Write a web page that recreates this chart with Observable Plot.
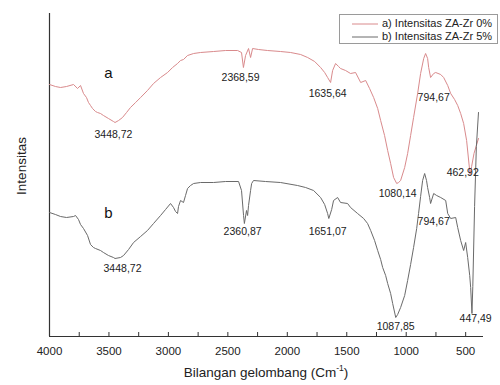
<!DOCTYPE html>
<html>
<head>
<meta charset="utf-8">
<script src="https://cdn.jsdelivr.net/npm/d3@7"></script>
<script src="https://cdn.jsdelivr.net/npm/@observablehq/plot@0.6"></script>
<style>
  html, body { margin: 0; padding: 0; background: #fff; }
  #chart svg { display: block; font-family: "Liberation Sans", Arial, sans-serif; }
</style>
</head>
<body>
<div id="chart"></div>
<script>
// ---- Data (wavenumber cm-1, intensity in arbitrary units) ----
const seriesNames = ["a) Intensitas ZA-Zr 0%", "b) Intensitas ZA-Zr 5%"];

const wnA = [4000,3950,3907,3857,3798,3764,3739,3714,3689,3672,3655,3638,3613,3596,3571,3546,3504,3462,3449,3419,3386,3352,3319,3276,3234,3176,3125,3066,3007,2965,2923,2898,2873,2839,2788,2730,2620,2519,2418,2385,2369,2351,2326,2309,2292,2242,2166,2057,1972,1888,1829,1770,1720,1686,1661,1636,1619,1594,1569,1552,1510,1468,1426,1383,1341,1308,1274,1240,1215,1182,1156,1131,1106,1080,1064,1047,1013,988,963,938,904,879,853,837,820,811,795,769,752,710,685,651,626,593,567,542,517,492,463,450,430,410,392];
const intA = [252,250,249,250,252,248,251,243,239,234,231,228,225,224,223,221,218,215,214,216,219,224,229,234,239,246,253,259,264,269,273,276,277,281,283,284,285,286,286,284,269,281,288,279,288,287,286,285,284,282,279,275,269,264,259,254,266,273,270,268,266,263,264,254,256,248,239,228,216,201,186,173,159,153,154,156,169,183,201,219,243,263,278,283,278,269,259,263,264,262,259,251,243,237,231,223,213,196,162,170,183,191,198];

const wnB = [4000,3950,3907,3857,3798,3781,3756,3739,3714,3680,3655,3630,3613,3571,3546,3504,3462,3449,3403,3377,3335,3293,3234,3176,3125,3066,3024,2982,2957,2940,2923,2915,2898,2873,2856,2839,2814,2788,2730,2620,2519,2410,2385,2368,2361,2343,2334,2326,2309,2300,2284,2183,2057,1914,1846,1779,1720,1686,1661,1651,1627,1611,1577,1552,1493,1468,1409,1358,1325,1299,1266,1240,1215,1198,1173,1156,1131,1114,1088,1072,1047,1013,988,963,938,912,896,879,862,845,829,820,803,795,769,744,710,668,651,626,584,567,542,517,500,483,466,458,447,440,425,410,392];
const intB = [124,122,120,119,120,121,117,112,108,101,92,89,88,86,84,81,79,78,79,81,87,94,100,106,113,121,127,133,129,125,123,130,136,134,141,148,151,153,154,154,155,155,146,121,113,126,121,131,146,153,156,155,154,151,149,146,139,132,123,118,127,136,139,134,133,129,123,118,113,106,96,86,77,69,61,53,43,33,19,22,29,41,56,72,89,108,123,140,156,163,156,149,139,133,143,141,139,136,123,118,119,109,96,86,94,79,61,49,23,50,130,190,224];

// peak annotations
const peakTextA = ["3448,72","2368,59","1635,64","1080,14","794,67","462,92"];
const peakXA    = [3462, 2393, 1661, 1072, 769, 525];
const peakYA    = [202, 259, 243, 143, 239, 164];
const peakTextB = ["3448,72","2360,87","1651,07","1087,85","794,67","447,49"];
const peakXB    = [3386, 2376, 1661, 1089, 769, 416];
const peakYB    = [68, 105, 105, 10, 115, 18];
const curveTags = ["a","b"];
const tagX      = [3504, 3504];
const tagY      = [263, 123];

const majorTicks = [4000,3500,3000,2500,2000,1500,1000,500];
const allTicks   = [3750,3500,3250,3000,2750,2500,2250,2000,1750,1500,1250,1000,750,500];

const xTitle = "Bilangan gelombang (Cm";
const xTitleSup = "-1";
const yTitle = "Intensitas";

// ---- build tables ----
const dataA = wnA.map((w, i) => ({wn: w, v: intA[i]}));
const dataB = wnB.map((w, i) => ({wn: w, v: intB[i]}));
const labA = peakTextA.map((t, i) => ({t, x: peakXA[i], y: peakYA[i]}));
const labB = peakTextB.map((t, i) => ({t, x: peakXB[i], y: peakYB[i]}));
const tags = curveTags.map((t, i) => ({t, x: tagX[i], y: tagY[i]}));

const colA = "#d98a8c";
const colB = "#6a6a6a";
const axisCol = "#333";

const plot = Plot.plot({
  width: 500,
  height: 385,
  marginLeft: 49,
  marginRight: 17,
  marginTop: 13,
  marginBottom: 49,
  style: {fontFamily: "'Liberation Sans', Arial, sans-serif", background: "#fff"},
  x: {domain: [4000, 350]},
  y: {domain: [0, 323], axis: null},
  marks: [
    Plot.axisX({ticks: majorTicks, tickFormat: d3.format("d"), tickSize: 0, tickPadding: 10, fontSize: 11.5, label: null, color: "#222"}),
    Plot.ruleX(allTicks, {y1: 0, y2: 4, stroke: axisCol}),
    Plot.ruleY([0], {stroke: axisCol, strokeWidth: 1.2}),
    Plot.ruleX([4000], {stroke: axisCol, strokeWidth: 1.2}),
    Plot.line(dataA, {x: "wn", y: "v", stroke: colA, strokeWidth: 1}),
    Plot.line(dataB, {x: "wn", y: "v", stroke: colB, strokeWidth: 1}),
    Plot.text(labA, {x: "x", y: "y", text: "t", fontSize: 10.5, fill: "#222"}),
    Plot.text(labB, {x: "x", y: "y", text: "t", fontSize: 10.5, fill: "#222"}),
    Plot.text(tags, {x: "x", y: "y", text: "t", fontSize: 15, fill: "#111"})
  ]
});

const svg = d3.select(plot);

// x axis title with superscript
const xt = svg.append("text")
  .attr("x", 266).attr("y", 377)
  .attr("text-anchor", "middle")
  .attr("font-size", 13.5)
  .attr("fill", "#222");
xt.append("tspan").text(xTitle);
xt.append("tspan").attr("font-size", 8.5).attr("dy", -6).text(xTitleSup);
xt.append("tspan").attr("dy", 6).text(")");

// y axis title
svg.append("text")
  .attr("transform", "translate(22,166) rotate(-90)")
  .attr("text-anchor", "middle")
  .attr("dominant-baseline", "middle")
  .attr("font-size", 13.5)
  .attr("fill", "#222")
  .text(yTitle);

// legend
const lg = svg.append("g").attr("text-anchor", "start");
lg.append("rect").attr("x", 339.5).attr("y", 14.5).attr("width", 158).attr("height", 29)
  .attr("fill", "#fff").attr("stroke", "#9a9a9a");
[colA, colB].forEach((c, i) => {
  const y = 24 + i * 13;
  lg.append("line").attr("x1", 352).attr("x2", 378).attr("y1", y).attr("y2", y)
    .attr("stroke", c).attr("stroke-width", 1);
  lg.append("text").attr("x", 382).attr("y", y).attr("dominant-baseline", "middle")
    .attr("text-anchor", "start")
    .attr("font-size", 11).attr("fill", "#222").text(seriesNames[i]);
});

document.getElementById("chart").appendChild(plot);
</script>
</body>
</html>
